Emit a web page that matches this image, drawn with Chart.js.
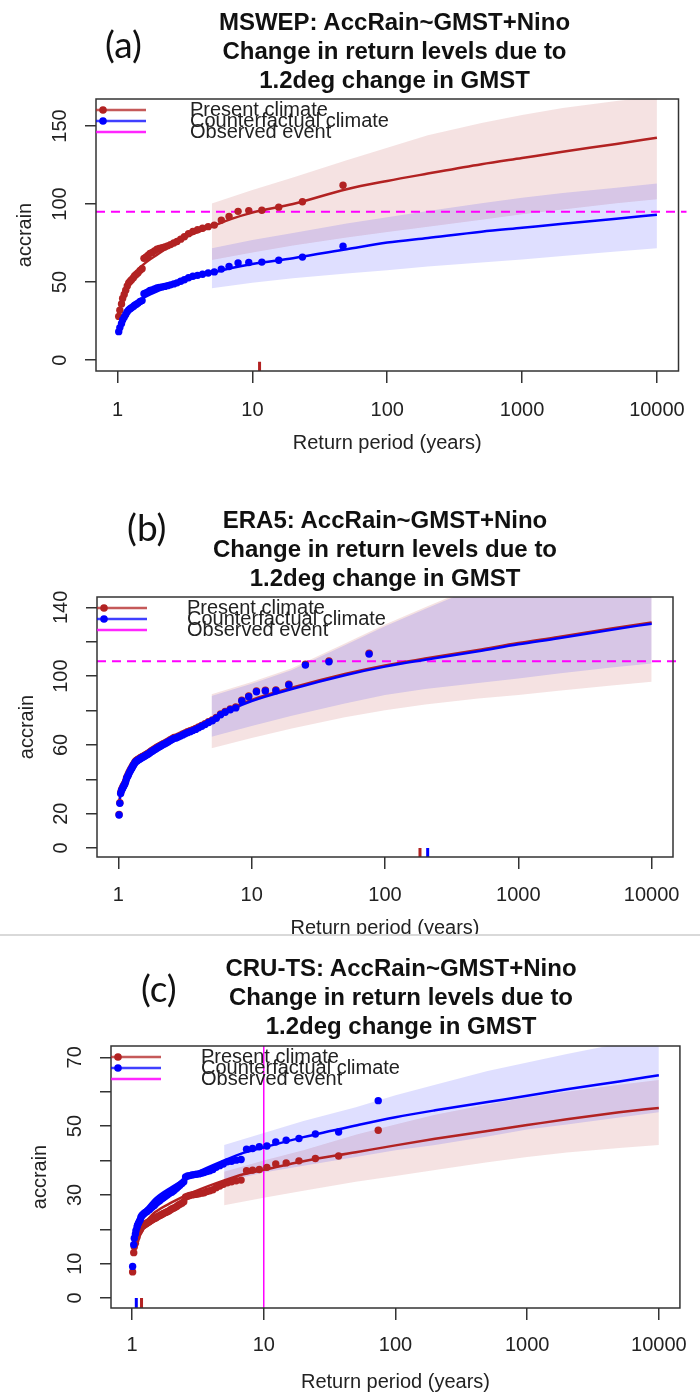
<!DOCTYPE html>
<html>
<head>
<meta charset="utf-8">
<script src="https://cdn.jsdelivr.net/npm/chart.js@4/dist/chart.umd.min.js"></script>
<style>
  html,body{margin:0;padding:0;background:#fff;}
  body{position:relative;width:700px;height:1396px;overflow:hidden;font-family:"Liberation Sans",Arial,sans-serif;}
  canvas{position:absolute;left:0;z-index:1;}
  .ttl{position:absolute;text-align:center;font-weight:bold;font-size:24px;line-height:29px;color:#111;z-index:5;white-space:nowrap;}
  .lab{position:absolute;font-family:Lato,"Open Sans",sans-serif;font-size:37px;line-height:44px;color:#111;z-index:5;}
  .sep{position:absolute;left:0;width:700px;z-index:3;}
</style>
</head>
<body>
<div class="lab" id="labA" style="left:105px;top:22px;">(a)</div>
<div class="lab" id="labB" style="left:127px;top:505px;">(b)</div>
<div class="lab" id="labC" style="left:141px;top:966px;">(c)</div>
<div class="ttl" id="ttlA" style="left:96px;width:597px;top:7px;"></div>
<div class="ttl" id="ttlB" style="left:97px;width:576px;top:505px;"></div>
<div class="ttl" id="ttlC" style="left:111px;width:580px;top:953px;"></div>
<canvas id="cA" width="700" height="470" style="top:0px"></canvas>
<canvas id="cB" width="700" height="475" style="top:480px"></canvas>
<div class="sep" style="top:935px;height:20px;background:#fff;"></div>
<div class="sep" style="top:934px;height:2px;background:#d9d9d9;"></div>
<canvas id="cC" width="700" height="441" style="top:955px"></canvas>
<script>
// ---------------- shared ----------------
const legendLabels = ["Present climate", "Counterfactual climate", "Observed event"];
const xTickValues = [1, 10, 100, 1000, 10000];
const xLabel = "Return period (years)";
const yLabel = "accrain";
const fitPeriods = [1.02, 1.05, 1.1, 1.2, 1.3, 1.5, 2, 3, 5, 7, 10, 20, 50, 100, 200, 500, 1000, 2000, 5000, 10000];
const bandPeriods = [5, 10, 20, 50, 100, 200, 500, 1000, 2000, 5000, 10000];

// ---------------- (a) MSWEP ----------------
const titleA = ["MSWEP: AccRain~GMST+Nino", "Change in return levels due to", "1.2deg change in GMST"];
const yTicksA = [0, 50, 100, 150];
const yLabelsA = [0, 50, 100, 150];
const periodsA = [47, 23.5, 15.67, 11.75, 9.4, 7.83, 6.71, 5.88, 5.22, 4.7, 4.27, 3.92, 3.62, 3.36, 3.13, 2.94, 2.76, 2.61, 2.47, 2.35, 2.24, 2.14, 2.04, 1.96, 1.88, 1.81, 1.74, 1.68, 1.62, 1.57, 1.52, 1.47, 1.42, 1.38, 1.34, 1.31, 1.27, 1.24, 1.21, 1.18, 1.15, 1.12, 1.09, 1.07, 1.04, 1.02];
const presentA = [112, 101.5, 98, 96, 95.8, 95.3, 92, 89.7, 86.5, 85.5, 84.5, 83.5, 82.5, 81, 79, 77.5, 76, 75, 74, 73.2, 72.5, 72, 71.5, 71, 70, 69, 68.4, 67, 66, 65.2, 58.5, 57.5, 56, 55, 54, 52.8, 51.5, 50.5, 49.5, 47.5, 44.8, 42, 39.5, 36, 32, 28];
const counterA = [73, 66, 64, 62.8, 62.5, 62.2, 60, 58.3, 56.5, 55.8, 55, 54.3, 53.7, 52.8, 51.5, 50.5, 49.5, 48.8, 48.2, 47.7, 47.2, 46.9, 46.6, 46.2, 45.6, 45, 44.6, 43.7, 43, 42.5, 38.1, 37.5, 36.5, 35.8, 35.2, 34.4, 33.5, 32.9, 32.2, 31, 29.2, 27.4, 25.7, 23.5, 20.8, 18.2];
const fitPresentA = [27, 33, 40, 48, 53, 60, 68, 77.5, 85.5, 90.5, 94.5, 100, 109.5, 114.8, 119.5, 125.5, 129.5, 133.5, 138.5, 142.5];
const fitCounterA = [18, 21.5, 26, 31, 34.5, 39, 44.3, 50.5, 55.8, 59, 61.6, 65.3, 71, 75.3, 78.3, 82.3, 84.8, 87.3, 90.5, 93.2];
const presentHiA = [100.4, 109, 117, 128, 136, 144, 152, 157, 161.5, 166, 169];
const presentLoA = [64.1, 69, 73.5, 78.5, 82, 85.5, 90, 93.5, 96.5, 100.5, 103];
const counterHiA = [71.6, 77, 81.5, 87.5, 91.5, 95.5, 100.5, 104, 107, 110.5, 113.2];
const counterLoA = [46, 49.5, 52.5, 55.5, 57.5, 60, 62.5, 64.5, 66.7, 69.5, 71.6];
const observedA = 95;
const rugPresentA = 11.3;

// ---------------- (b) ERA5 ----------------
const titleB = ["ERA5: AccRain~GMST+Nino", "Change in return levels due to", "1.2deg change in GMST"];
const yTicksB = [0, 20, 40, 60, 80, 100, 120, 140];
const yLabelsB = [0, 20, 60, 100, 140];
const periodsB = [76, 38, 25.3, 19, 15.2, 12.67, 10.86, 9.5, 8.44, 7.6, 6.91, 6.33, 5.85, 5.43, 5.07, 4.75, 4.47, 4.22, 4.0, 3.8, 3.62, 3.455, 3.304, 3.167, 3.04, 2.923, 2.815, 2.714, 2.621, 2.533, 2.452, 2.375, 2.303, 2.235, 2.171, 2.111, 2.054, 2.0, 1.949, 1.9, 1.854, 1.81, 1.767, 1.727, 1.689, 1.652, 1.617, 1.583, 1.551, 1.52, 1.49, 1.462, 1.434, 1.407, 1.382, 1.357, 1.333, 1.31, 1.288, 1.267, 1.246, 1.226, 1.206, 1.188, 1.169, 1.152, 1.134, 1.118, 1.101, 1.086, 1.07, 1.056, 1.041, 1.027, 1.013];
const presentB = [113.3, 108.8, 106.9, 95.3, 92, 91.8, 91.4, 88.5, 86, 82, 80.9, 79.5, 78, 76, 74.5, 73.5, 72.3, 71.3, 70.4, 69.5, 68.8, 68.2, 67.6, 67, 66.3, 65.6, 65.1, 64.5, 64.3, 63.6, 63, 62.3, 61.7, 61.1, 60.7, 60.1, 59.6, 59.1, 58.6, 58, 57.5, 57, 56.5, 55.9, 55.3, 54.9, 54.5, 54, 53.6, 53.3, 52.9, 52.5, 52, 51.7, 51.2, 50.8, 50.1, 49.1, 48.2, 47.1, 46.2, 45.1, 44.1, 42.9, 41.8, 40.7, 38.9, 37.6, 36.7, 35.8, 34.7, 33.8, 32.2, 26.4, 19.5];
const counterB = [112.8, 108.3, 106.4, 94.8, 91.5, 91.3, 90.9, 88, 85.5, 81.5, 80.4, 79, 77.5, 75.5, 74, 73, 71.8, 70.8, 69.9, 69, 68.3, 67.7, 67.1, 66.5, 65.8, 65.1, 64.6, 64, 63.8, 63.1, 62.5, 61.8, 61.2, 60.6, 60.2, 59.6, 59.1, 58.6, 58.1, 57.5, 57, 56.5, 56, 55.4, 54.8, 54.4, 54, 53.5, 53.1, 52.8, 52.4, 52, 51.5, 51.2, 50.7, 50.3, 49.6, 48.6, 47.7, 46.6, 45.7, 44.6, 43.6, 42.4, 41.4, 40.3, 38.5, 37.2, 36.3, 35.4, 34.3, 33.4, 31.8, 26, 19.2];
const fitPresentB = [27.5, 33.6, 37.6, 44.2, 47.7, 52.7, 59.2, 66.7, 75.2, 81.2, 86.2, 93.2, 101.2, 106.2, 110.2, 115.2, 119.2, 122.7, 127.7, 131.2];
const fitCounterB = [27, 33, 37, 43.5, 47, 52, 58.5, 66, 74.5, 80.5, 85.5, 92.5, 100.5, 105.5, 109.5, 114.5, 118.5, 122, 127, 130.5];
const presentHiB = [89.5, 96.5, 104.5, 119, 130, 140, 153, 161, 169, 177, 183];
const presentLoB = [58, 64, 69.5, 76, 80.2, 83.5, 87, 89, 91.5, 94.5, 96.7];
const counterHiB = [88.5, 95.5, 103.5, 118, 129, 139, 152, 160, 168, 176, 182];
const counterLoB = [64.7, 71, 77, 84, 89, 92.5, 96, 98.6, 101.5, 105, 107.4];
const observedB = 108.7;
const rugPresentB = 183;
const rugCounterB = 209;

// ---------------- (c) CRU-TS ----------------
const titleC = ["CRU-TS: AccRain~GMST+Nino", "Change in return levels due to", "1.2deg change in GMST"];
const yTicksC = [0, 10, 20, 30, 40, 50, 60, 70];
const yLabelsC = [0, 10, 30, 50, 70];
const periodsC = [74, 37, 24.67, 18.5, 14.8, 12.33, 10.57, 9.25, 8.22, 7.4, 6.73, 6.17, 5.69, 5.29, 4.93, 4.63, 4.35, 4.11, 3.89, 3.7, 3.52, 3.36, 3.22, 3.08, 2.96, 2.85, 2.74, 2.64, 2.55, 2.47, 2.39, 2.31, 2.24, 2.18, 2.11, 2.06, 2.0, 1.95, 1.9, 1.85, 1.8, 1.76, 1.72, 1.68, 1.64, 1.61, 1.57, 1.54, 1.51, 1.48, 1.45, 1.42, 1.4, 1.37, 1.35, 1.32, 1.3, 1.28, 1.25, 1.23, 1.21, 1.19, 1.17, 1.16, 1.14, 1.12, 1.1, 1.09, 1.07, 1.06, 1.04, 1.03, 1.01];
const presentC = [48.8, 41.3, 40.6, 39.9, 39.3, 39, 38, 37.4, 37.2, 37, 34.3, 34.1, 33.8, 33.5, 33.1, 32.6, 32.1, 31.5, 31.2, 31, 30.6, 30.5, 30.3, 30.2, 30.1, 30, 29.8, 29.6, 29.4, 28, 27.6, 27.3, 27, 26.6, 26.3, 26.1, 25.9, 25.6, 25.3, 25.1, 24.9, 24.7, 24.5, 24.3, 24.1, 23.9, 23.7, 23.5, 23.3, 23.1, 23, 22.8, 22.6, 22.4, 22.2, 22, 21.8, 21.6, 21.4, 21.2, 21, 20.8, 20.4, 20, 19.5, 19, 18.4, 17.7, 16.9, 15.9, 14.9, 13.2, 7.6];
const counterC = [57.4, 48.3, 47.7, 46.4, 45.9, 45.4, 44.2, 44, 43.5, 43.3, 40.3, 40.1, 39.8, 39.6, 39, 38.5, 38, 37.4, 37, 36.8, 36.5, 36.3, 36.1, 36, 35.9, 35.8, 35.6, 35.5, 35.2, 33.8, 33.3, 32.8, 32.4, 31.9, 31.5, 31.1, 30.8, 30.6, 30.3, 30, 29.7, 29.4, 29.1, 28.9, 28.5, 28.2, 28, 27.7, 27.4, 27, 26.8, 26.5, 26.3, 26, 25.7, 25.5, 25.2, 25, 24.8, 24.5, 24.3, 24, 23.6, 23, 22.4, 21.8, 21.2, 20.5, 19.6, 18.6, 17.4, 15.5, 9.2];
const fitPresentC = [12.5, 16, 18.7, 21, 22.6, 25, 27.8, 31, 34.2, 36, 37.3, 39.8, 42.4, 44.4, 46.3, 48.6, 50.3, 52, 54, 55.3];
const fitCounterC = [14, 18.5, 21.7, 24.5, 26.3, 29, 32.3, 36.2, 40, 42.2, 43.8, 46.8, 50.2, 52.6, 54.6, 57, 58.8, 60.7, 63, 64.8];
const presentHiC = [36.7, 40, 43, 47.5, 50.5, 53.3, 56.3, 58.3, 60, 62, 63.4];
const presentLoC = [27, 29.2, 31.2, 33.8, 35.5, 37.2, 39.5, 41, 42.3, 43.6, 44.5];
const counterHiC = [44.5, 48, 51.5, 55.5, 59, 62, 66, 68.5, 71, 74, 76];
const counterLoC = [33.8, 36.5, 38.5, 41, 43, 44.5, 47, 49, 50.5, 52.5, 54];
const observedPeriodC = 10;
const rugPresentC = 1.18;
const rugCounterC = 1.077;

// ---------------- drawing ----------------
const RED = '#B22222', BLUE = '#0000FF', MAG = '#FF00FF';
const RED_BAND = 'rgba(178,34,34,0.13)', BLUE_BAND = 'rgba(0,0,255,0.125)';
const FONT = '"Liberation Sans", Arial, sans-serif';
Chart.defaults.font.family = FONT;
Chart.defaults.color = '#222';

function pts(xs, ys) { return xs.map((x, i) => ({x: x, y: ys[i]})); }

const rframe = {
  id: 'rframe',
  afterDraw(chart, args, o) {
    const ctx = chart.ctx, a = chart.chartArea, ys = chart.scales.y;
    ctx.save();
    ctx.strokeStyle = '#333'; ctx.lineWidth = 1.5;
    ctx.strokeRect(a.left, a.top, a.right - a.left, a.bottom - a.top);
    ctx.fillStyle = '#222';
    ctx.font = '20px ' + FONT;
    ctx.textAlign = 'center'; ctx.textBaseline = 'middle';
    o.yLabels.forEach(v => {
      ctx.save();
      ctx.translate(a.left - 36, ys.getPixelForValue(v));
      ctx.rotate(-Math.PI / 2);
      ctx.fillText(String(v), 0, 0);
      ctx.restore();
    });
    // legend
    const rows = [
      {c: 'rgba(178,34,34,0.75)', dc: RED, dot: true, dy: 11},
      {c: 'rgba(0,0,255,0.75)', dc: BLUE, dot: true, dy: 22},
      {c: 'rgba(255,0,255,0.85)', dc: null, dot: false, dy: 33}
    ];
    ctx.textAlign = 'left';
    rows.forEach((r, i) => {
      const y = a.top + r.dy;
      ctx.strokeStyle = r.c; ctx.lineWidth = 2.5;
      ctx.beginPath(); ctx.moveTo(a.left, y); ctx.lineTo(a.left + 50, y); ctx.stroke();
      if (r.dot) {
        ctx.fillStyle = r.dc;
        ctx.beginPath(); ctx.arc(a.left + 7, y, 3.8, 0, Math.PI * 2); ctx.fill();
      }
      ctx.fillStyle = '#222';
      ctx.fillText(legendLabels[i], a.left + o.legendX, y);
    });
    ctx.restore();
  }
};

function makePanel(p) {
  const ds = [];
  ds.push({data: pts(bandPeriods, p.presentHi), fill: '+1', backgroundColor: RED_BAND, borderWidth: 0, pointRadius: 0, order: 9});
  ds.push({data: pts(bandPeriods, p.presentLo), fill: false, borderWidth: 0, pointRadius: 0, order: 9});
  ds.push({data: pts(bandPeriods, p.counterHi), fill: '+1', backgroundColor: BLUE_BAND, borderWidth: 0, pointRadius: 0, order: 8});
  ds.push({data: pts(bandPeriods, p.counterLo), fill: false, borderWidth: 0, pointRadius: 0, order: 8});
  if (p.observed !== undefined) {
    ds.push({data: [{x: p.xMin, y: p.observed}, {x: 17000, y: p.observed}], borderColor: MAG, borderWidth: 2, borderDash: [9, 6], pointRadius: 0, fill: false, order: 4, clip: {left: 0, top: 0, right: 8, bottom: 0}});
  }
  if (p.observedPeriod !== undefined) {
    ds.push({data: [{x: p.observedPeriod, y: p.yMin}, {x: p.observedPeriod, y: p.yMax}], borderColor: MAG, borderWidth: 1.5, pointRadius: 0, fill: false, order: 4});
  }
  ds.push({data: pts(fitPeriods, p.fitPresent), borderColor: RED, borderWidth: 2.5, pointRadius: 0, fill: false, cubicInterpolationMode: 'monotone', order: 3});
  ds.push({data: pts(fitPeriods, p.fitCounter), borderColor: BLUE, borderWidth: 2.5, pointRadius: 0, fill: false, cubicInterpolationMode: 'monotone', order: 2});
  if (p.rugPresent !== undefined) {
    ds.push({data: [{x: p.rugPresent, y: p.rugTop}, {x: p.rugPresent, y: p.yMin}], borderColor: RED, borderWidth: 3, pointRadius: 0, fill: false, order: 5, clip: 2});
  }
  if (p.rugCounter !== undefined) {
    ds.push({data: [{x: p.rugCounter, y: p.rugTop}, {x: p.rugCounter, y: p.yMin}], borderColor: BLUE, borderWidth: 3, pointRadius: 0, fill: false, order: 5, clip: 2});
  }
  ds.push({data: pts(p.periods, p.present), showLine: false, pointRadius: 3.7, pointBackgroundColor: RED, pointBorderWidth: 0, pointHoverRadius: 3.7, order: 1});
  ds.push({data: pts(p.periods, p.counter), showLine: false, pointRadius: 3.7, pointBackgroundColor: BLUE, pointBorderWidth: 0, pointHoverRadius: 3.7, order: 0});

  document.getElementById(p.titleId).innerHTML = p.title.join('<br>');

  new Chart(document.getElementById(p.canvas), {
    type: 'line',
    data: {datasets: ds},
    plugins: [rframe],
    options: {
      responsive: false, animation: false, events: [],
      layout: {padding: {top: p.padTop, right: p.padRight, left: 0, bottom: 0}},
      plugins: {legend: {display: false}, tooltip: {enabled: false},
        rframe: {yLabels: p.yLabels, legendX: p.legendX}},
      scales: {
        x: {
          type: 'logarithmic', position: 'bottom', min: p.xMin, max: p.xMax,
          afterBuildTicks: s => { s.ticks = xTickValues.map(v => ({value: v})); },
          afterFit: s => { s.height = p.xHeight; },
          ticks: {callback: v => String(v), font: {size: 20}, color: '#222', padding: p.xTickPad, maxRotation: 0, minRotation: 0, autoSkip: false},
          grid: {drawOnChartArea: false, tickLength: 12, color: '#333', lineWidth: 1.5},
          border: {display: false},
          title: {display: true, text: xLabel, font: {size: 20}, color: '#222', padding: {top: 0, bottom: p.xTitlePad}}
        },
        y: {
          type: 'linear', position: 'left', min: p.yMin, max: p.yMax,
          afterBuildTicks: s => { s.ticks = p.yTicks.map(v => ({value: v})); },
          afterFit: s => { s.width = p.yWidth; },
          ticks: {color: 'rgba(0,0,0,0)', font: {size: 20}},
          grid: {drawOnChartArea: false, tickLength: 11, color: '#333', lineWidth: 1.5},
          border: {display: false},
          title: {display: true, text: yLabel, font: {size: 20}, color: '#222', padding: {top: p.yTitlePad, bottom: 0}}
        }
      }
    }
  });
}

makePanel({canvas: 'cA', titleId: 'ttlA', title: titleA, yTicks: yTicksA, yLabels: yLabelsA,
  periods: periodsA, present: presentA, counter: counterA, fitPresent: fitPresentA, fitCounter: fitCounterA,
  presentHi: presentHiA, presentLo: presentLoA, counterHi: counterHiA, counterLo: counterLoA,
  observed: observedA, rugPresent: rugPresentA, rugTop: -1,
  xMin: 0.692, xMax: 14454, yMin: -7, yMax: 167.3,
  padTop: 99, padRight: 7, yWidth: 96, xHeight: 99, xTickPad: 15, xTitlePad: 15, yTitlePad: 13, legendX: 94});

makePanel({canvas: 'cB', titleId: 'ttlB', title: titleB, yTicks: yTicksB, yLabels: yLabelsB,
  periods: periodsB, present: presentB, counter: counterB, fitPresent: fitPresentB, fitCounter: fitCounterB,
  presentHi: presentHiB, presentLo: presentLoB, counterHi: counterHiB, counterLo: counterLoB,
  observed: observedB, rugPresent: rugPresentB, rugCounter: rugCounterB, rugTop: 0,
  xMin: 0.692, xMax: 14454, yMin: -5.2, yMax: 146,
  padTop: 117, padRight: 27, yWidth: 97, xHeight: 98, xTickPad: 14, xTitlePad: 15, yTitlePad: 15, legendX: 90});

makePanel({canvas: 'cC', titleId: 'ttlC', title: titleC, yTicks: yTicksC, yLabels: yLabelsC,
  periods: periodsC, present: presentC, counter: counterC, fitPresent: fitPresentC, fitCounter: fitCounterC,
  presentHi: presentHiC, presentLo: presentLoC, counterHi: counterHiC, counterLo: counterLoC,
  observedPeriod: observedPeriodC, rugPresent: rugPresentC, rugCounter: rugCounterC, rugTop: 0,
  xMin: 0.692, xMax: 14454, yMin: -2.9, yMax: 73.3,
  padTop: 91, padRight: 9, yWidth: 111, xHeight: 88, xTickPad: 13, xTitlePad: 2, yTitlePad: 28, legendX: 90});
</script>
</body>
</html>
